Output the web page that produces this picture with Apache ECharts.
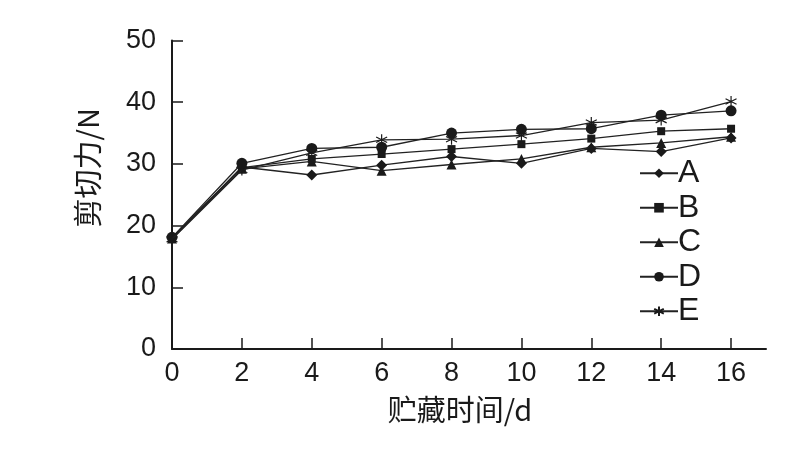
<!DOCTYPE html>
<html><head><meta charset="utf-8">
<script src="https://cdn.jsdelivr.net/npm/echarts@6/dist/echarts.min.js"></script>
<style>html,body{margin:0;padding:0;background:#fff}#c{width:803px;height:454px}</style>
</head><body><div id="c"></div>
<script>
var days = [0, 2, 4, 6, 8, 10, 12, 14, 16];
var xTicks = [0, 2, 4, 6, 8, 10, 12, 14, 16];
var yTicks = [0, 10, 20, 30, 40, 50];
var seriesNames = ['A', 'B', 'C', 'D', 'E'];
var valuesA = [18.0, 29.5, 28.2, 29.8, 31.2, 30.1, 32.5, 32.0, 34.2];
var valuesB = [18.0, 29.4, 30.8, 31.6, 32.4, 33.2, 34.1, 35.3, 35.7];
var valuesC = [17.9, 29.2, 30.4, 28.9, 29.9, 30.8, 32.7, 33.4, 34.4];
var valuesD = [18.1, 30.1, 32.5, 32.7, 35.0, 35.6, 35.7, 37.9, 38.6];
var valuesE = [17.8, 29.0, 31.8, 33.9, 34.0, 34.6, 36.7, 37.1, 40.1];

var star = 'path://M0,-6L0,6M-5.2,-3L5.2,3M-5.2,3L5.2,-3';
var symbols = ['diamond', 'rect', 'triangle', 'circle', star];
var sizes = [11, 8, 10, 11, 11];
var allValues = [valuesA, valuesB, valuesC, valuesD, valuesE];
var FONT = '"Liberation Sans", Arial, sans-serif';
var CJK = '"Noto Sans CJK SC", sans-serif';

var series = seriesNames.map(function (n, i) {
  return {
    name: n,
    type: 'line',
    data: days.map(function (d, j) { return [d, allValues[i][j]]; }),
    symbol: symbols[i],
    symbolSize: sizes[i],
    showAllSymbol: true,
    lineStyle: { color: '#222', width: 1.3 },
    itemStyle: { color: '#1a1a1a', borderColor: '#1a1a1a', borderWidth: i === 4 ? 1.2 : 0 },
    emphasis: { disabled: true },
    z: 2 + i
  };
});

var chart = echarts.init(document.getElementById('c'), null, { renderer: 'canvas' });
chart.setOption({
  animation: false,
  backgroundColor: '#fff',
  grid: { left: 172, right: 37, top: 40.5, bottom: 105, containLabel: false },
  legend: {
    orient: 'vertical',
    left: 634,
    top: 151,
    itemWidth: 38,
    itemHeight: 12,
    itemGap: 0,
    data: seriesNames,
    textStyle: { fontFamily: FONT, fontSize: 32, color: '#1a1a1a', lineHeight: 34.5, padding: [0, 0, 0, -5] }
  },
  xAxis: {
    type: 'value',
    min: 0,
    max: 17,
    name: '贮藏时间/d',
    nameLocation: 'middle',
    nameGap: 46,
    nameTextStyle: { fontFamily: CJK, fontSize: 29, color: '#1a1a1a', padding: [0, 18, 0, 0] },
    axisLine: { show: true, onZero: false, lineStyle: { color: '#1a1a1a', width: 2 } },
    axisTick: { show: true, inside: true, length: 11, customValues: xTicks, lineStyle: { color: '#1a1a1a', width: 1.5 } },
    axisLabel: { customValues: xTicks, fontFamily: FONT, fontSize: 27, color: '#1a1a1a', margin: 11 },
    splitLine: { show: false }
  },
  yAxis: {
    type: 'value',
    min: 0,
    max: 50,
    interval: 10,
    name: '剪切力/N',
    nameLocation: 'middle',
    nameRotate: 90,
    nameGap: 70,
    nameTextStyle: { fontFamily: CJK, fontSize: 29, color: '#1a1a1a', padding: [0, 0, 0, 54] },
    axisLine: { show: true, onZero: false, lineStyle: { color: '#1a1a1a', width: 2 } },
    axisTick: { show: true, inside: true, length: 11, lineStyle: { color: '#1a1a1a', width: 1.5 } },
    axisLabel: { fontFamily: FONT, fontSize: 27, color: '#1a1a1a', margin: 16 },
    splitLine: { show: false }
  },
  series: series
});
</script>
</body></html>
